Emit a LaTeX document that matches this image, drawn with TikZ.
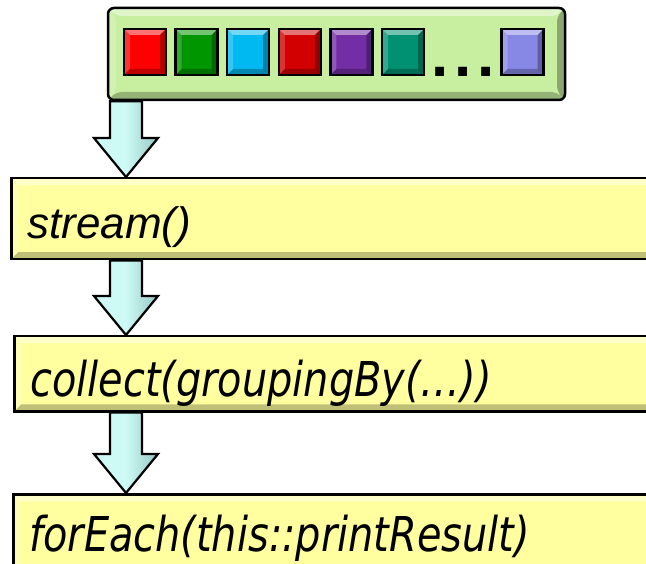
\documentclass[tikz,border=0pt]{standalone}
\usepackage{fontspec}
\setmainfont{Liberation Sans}
\newfontfamily\callfont[FakeStretch=0.83]{DejaVu Sans}
\usetikzlibrary{calc}
\definecolor{listgreen}{RGB}{200,238,160}
\definecolor{stepyellow}{RGB}{255,255,160}
\definecolor{arrowlight}{RGB}{205,250,245}
\definecolor{arrowdark}{RGB}{150,200,195}
\definecolor{sq1}{RGB}{255,0,0}
\definecolor{sq2}{RGB}{0,150,0}
\definecolor{sq3}{RGB}{0,185,240}
\definecolor{sq4}{RGB}{210,0,0}
\definecolor{sq5}{RGB}{115,45,165}
\definecolor{sq6}{RGB}{0,145,115}
\definecolor{sq7}{RGB}{135,135,230}

\tikzset{bevel/.style={path picture={
  \coordinate (bnw) at (path picture bounding box.north west);
  \coordinate (bne) at (path picture bounding box.north east);
  \coordinate (bse) at (path picture bounding box.south east);
  \coordinate (bsw) at (path picture bounding box.south west);
  \fill[white,opacity=.45] (bnw) -- (bne) -- ([shift={(-#1pt,-#1pt)}]bne) -- ([shift={(#1pt,-#1pt)}]bnw) -- cycle;
  \fill[white,opacity=.2] (bsw) -- (bnw) -- ([shift={(#1pt,-#1pt)}]bnw) -- ([shift={(#1pt,#1pt)}]bsw) -- cycle;
  \fill[black,opacity=.3] (bne) -- (bse) -- ([shift={(-#1pt,#1pt)}]bse) -- ([shift={(-#1pt,-#1pt)}]bne) -- cycle;
  \fill[black,opacity=.25] (bse) -- (bsw) -- ([shift={(#1pt,#1pt)}]bsw) -- ([shift={(-#1pt,#1pt)}]bse) -- cycle;
}}}

% fat arrow from the bottom of one node to the top of the next
\newcommand{\flowarrow}[2]{%
  \path[flowarrow] let \p1=(#1.south), \p2=(#2.north) in
    (110pt,\y1) -- (142pt,\y1) -- (142pt,{\y2+39pt}) -- (158pt,{\y2+39pt})
    -- (126pt,\y2) -- (94pt,{\y2+39pt}) -- (110pt,{\y2+39pt}) -- cycle;}

\begin{document}
\begin{tikzpicture}[x=1pt,y=-1pt,
  listbox/.style={draw, line width=2.5pt, fill=listgreen, rounded corners=6pt, bevel=8,
    minimum width=457pt, minimum height=92pt, inner sep=0pt},
  square/.style={draw, line width=2.5pt, bevel=6, minimum width=42pt, minimum height=46pt, inner sep=0pt},
  stepbox/.style={draw, line width=2.5pt, fill=stepyellow, bevel=7, anchor=north west,
    text width=670pt, align=left, inner xsep=16pt, inner ysep=0pt,
    font=\fontsize{48}{48}\callfont\itshape},
  flowarrow/.style={draw, line width=2.2pt, line join=miter, left color=arrowlight, right color=arrowdark, middle color=arrowlight}]
\useasboundingbox (0,0) rectangle (646,564);

% List
\node[listbox] (list) at (336.5,54) {};
\foreach \c [count=\i] in {sq1,sq2,sq3,sq4,sq5,sq6}
  \node[square, fill=\c] (sq\i) at ({145+51.6*(\i-1)},52) {};
\node[anchor=base, inner sep=0pt, font=\fontsize{62}{62}\selectfont\bfseries] (dots) at (463,77) {.\kern6pt.\kern6pt.};
\node[square, fill=sq7] (sq7) at (522.5,52) {};

% Steps
\node[stepbox, text height=60pt, text depth=21pt, font=\fontsize{44}{44}\selectfont\itshape] (stream) at (10,177) {stream()};
\node[stepbox, text height=60pt, text depth=15pt] (collect) at (13,335) {collect(groupingBy(…))};
\node[stepbox, text height=57pt, text depth=24pt] (foreach) at (12,493) {forEach(this::printResult)};

% Arrows
\flowarrow{list}{stream}
\flowarrow{stream}{collect}
\flowarrow{collect}{foreach}
\end{tikzpicture}
\end{document}
